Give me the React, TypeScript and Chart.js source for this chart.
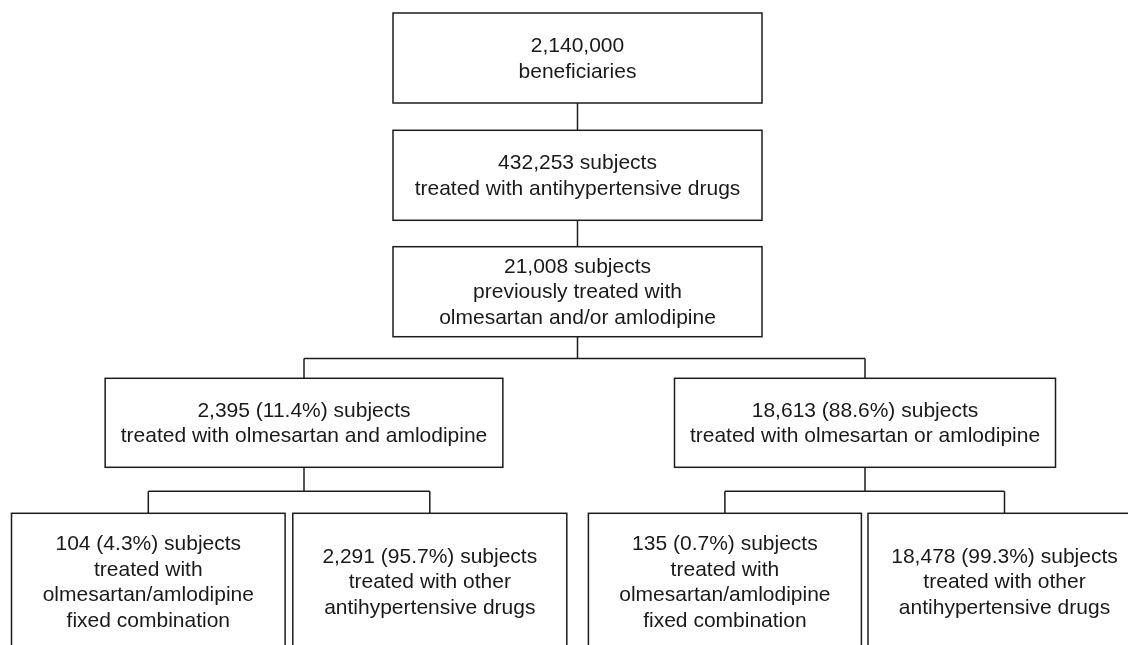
import React, { useEffect, useRef } from "react";
import { Chart, registerables } from "chart.js";

Chart.register(...registerables);

// ---- Data: text of each node and the tree structure ----
const nodeLines: string[][] = [
  ["2,140,000", "beneficiaries"],
  ["432,253 subjects", "treated with antihypertensive drugs"],
  ["21,008 subjects", "previously treated with", "olmesartan and/or amlodipine"],
  ["2,395 (11.4%) subjects", "treated with olmesartan and amlodipine"],
  ["18,613 (88.6%) subjects", "treated with olmesartan or amlodipine"],
  ["104 (4.3%) subjects", "treated with", "olmesartan/amlodipine", "fixed combination"],
  ["2,291 (95.7%) subjects", "treated with other", "antihypertensive drugs"],
  ["135 (0.7%) subjects", "treated with", "olmesartan/amlodipine", "fixed combination"],
  ["18,478 (99.3%) subjects", "treated with other", "antihypertensive drugs"],
];
const parents: number[] = [-1, 0, 1, 2, 2, 3, 3, 4, 4];

// ---- Layout (in scale units) ----
const layoutX: number[] = [577.5, 577.5, 577.5, 304, 865, 148.3, 429.8, 724.9, 1004.5];
const layoutY: number[] = [58, 175.3, 291.7, 422.8, 422.8, 581.5, 581.5, 581.5, 581.5];
const boxW: number[] = [369, 369, 369, 397.7, 381, 273.6, 274, 273, 273];
const boxH: number[] = [90, 90, 90, 89, 89, 136.4, 136.4, 136.4, 136.4];

const FONT = '21px "Liberation Sans", Arial, sans-serif';
const LINE_H = 25.5;
const STROKE = "#1c1c1c";

const flowPlugin = {
  id: "flowBoxes",
  afterDatasetsDraw(chart: any) {
    const ctx = chart.ctx as CanvasRenderingContext2D;
    const xs = chart.scales.x;
    const ys = chart.scales.y;
    const meta = chart.getDatasetMeta(0);
    const boxes = meta.data.map((pt: any, i: number) => {
      const cx = pt.x;
      const cy = pt.y;
      const w = Math.abs(xs.getPixelForValue(layoutX[i] + boxW[i] / 2) - xs.getPixelForValue(layoutX[i] - boxW[i] / 2));
      const h = Math.abs(ys.getPixelForValue(layoutY[i] + boxH[i] / 2) - ys.getPixelForValue(layoutY[i] - boxH[i] / 2));
      return { cx, cy, w, h, top: cy - h / 2, bottom: cy + h / 2 };
    });

    ctx.save();
    ctx.strokeStyle = STROKE;
    ctx.lineWidth = 1.5;

    // connectors
    const childrenOf: Record<number, number[]> = {};
    parents.forEach((p, i) => {
      if (p >= 0) (childrenOf[p] = childrenOf[p] || []).push(i);
    });
    Object.keys(childrenOf).forEach((k) => {
      const p = Number(k);
      const kids = childrenOf[p];
      const pb = boxes[p];
      ctx.beginPath();
      if (kids.length === 1) {
        const c = boxes[kids[0]];
        ctx.moveTo(pb.cx, pb.bottom);
        ctx.lineTo(c.cx, c.top);
      } else {
        const childTop = Math.min(...kids.map((c) => boxes[c].top));
        const busY = (pb.bottom + childTop) / 2 + 1;
        ctx.moveTo(pb.cx, pb.bottom);
        ctx.lineTo(pb.cx, busY);
        const xsK = kids.map((c) => boxes[c].cx);
        ctx.moveTo(Math.min(...xsK), busY);
        ctx.lineTo(Math.max(...xsK), busY);
        kids.forEach((c) => {
          ctx.moveTo(boxes[c].cx, busY);
          ctx.lineTo(boxes[c].cx, boxes[c].top);
        });
      }
      ctx.stroke();
    });

    // boxes
    boxes.forEach((b: any, i: number) => {
      ctx.fillStyle = "#ffffff";
      ctx.fillRect(b.cx - b.w / 2, b.top, b.w, b.h);
      ctx.strokeRect(b.cx - b.w / 2, b.top, b.w, b.h);
      ctx.fillStyle = "#1a1a1a";
      ctx.font = FONT;
      ctx.textAlign = "center";
      ctx.textBaseline = "middle";
      const lines = nodeLines[i];
      const start = b.cy - ((lines.length - 1) * LINE_H) / 2;
      lines.forEach((t, j) => ctx.fillText(t, b.cx, start + j * LINE_H + 1));
    });
    ctx.restore();
  },
};

export default function App() {
  const ref = useRef<HTMLCanvasElement | null>(null);
  useEffect(() => {
    document.body.style.margin = "0";
    if (!ref.current) return;
    const chart = new Chart(ref.current, {
      type: "scatter",
      data: {
        datasets: [
          {
            label: "nodes",
            data: layoutX.map((x, i) => ({ x, y: layoutY[i] })),
            pointRadius: 0,
            pointHoverRadius: 0,
          },
        ],
      },
      options: {
        animation: false,
        responsive: true,
        maintainAspectRatio: false,
        layout: { padding: 0 },
        events: [],
        scales: {
          x: { type: "linear", min: 0, max: 1128, display: false },
          y: { type: "linear", min: 0, max: 645, reverse: true, display: false },
        },
        plugins: { legend: { display: false }, tooltip: { enabled: false }, title: { display: false } },
      },
      plugins: [flowPlugin],
    });
    return () => chart.destroy();
  }, []);
  return (
    <div style={{ position: "absolute", left: 0, top: 0, width: 1128, height: 645, background: "#fff" }}>
      <canvas ref={ref} />
    </div>
  );
}
